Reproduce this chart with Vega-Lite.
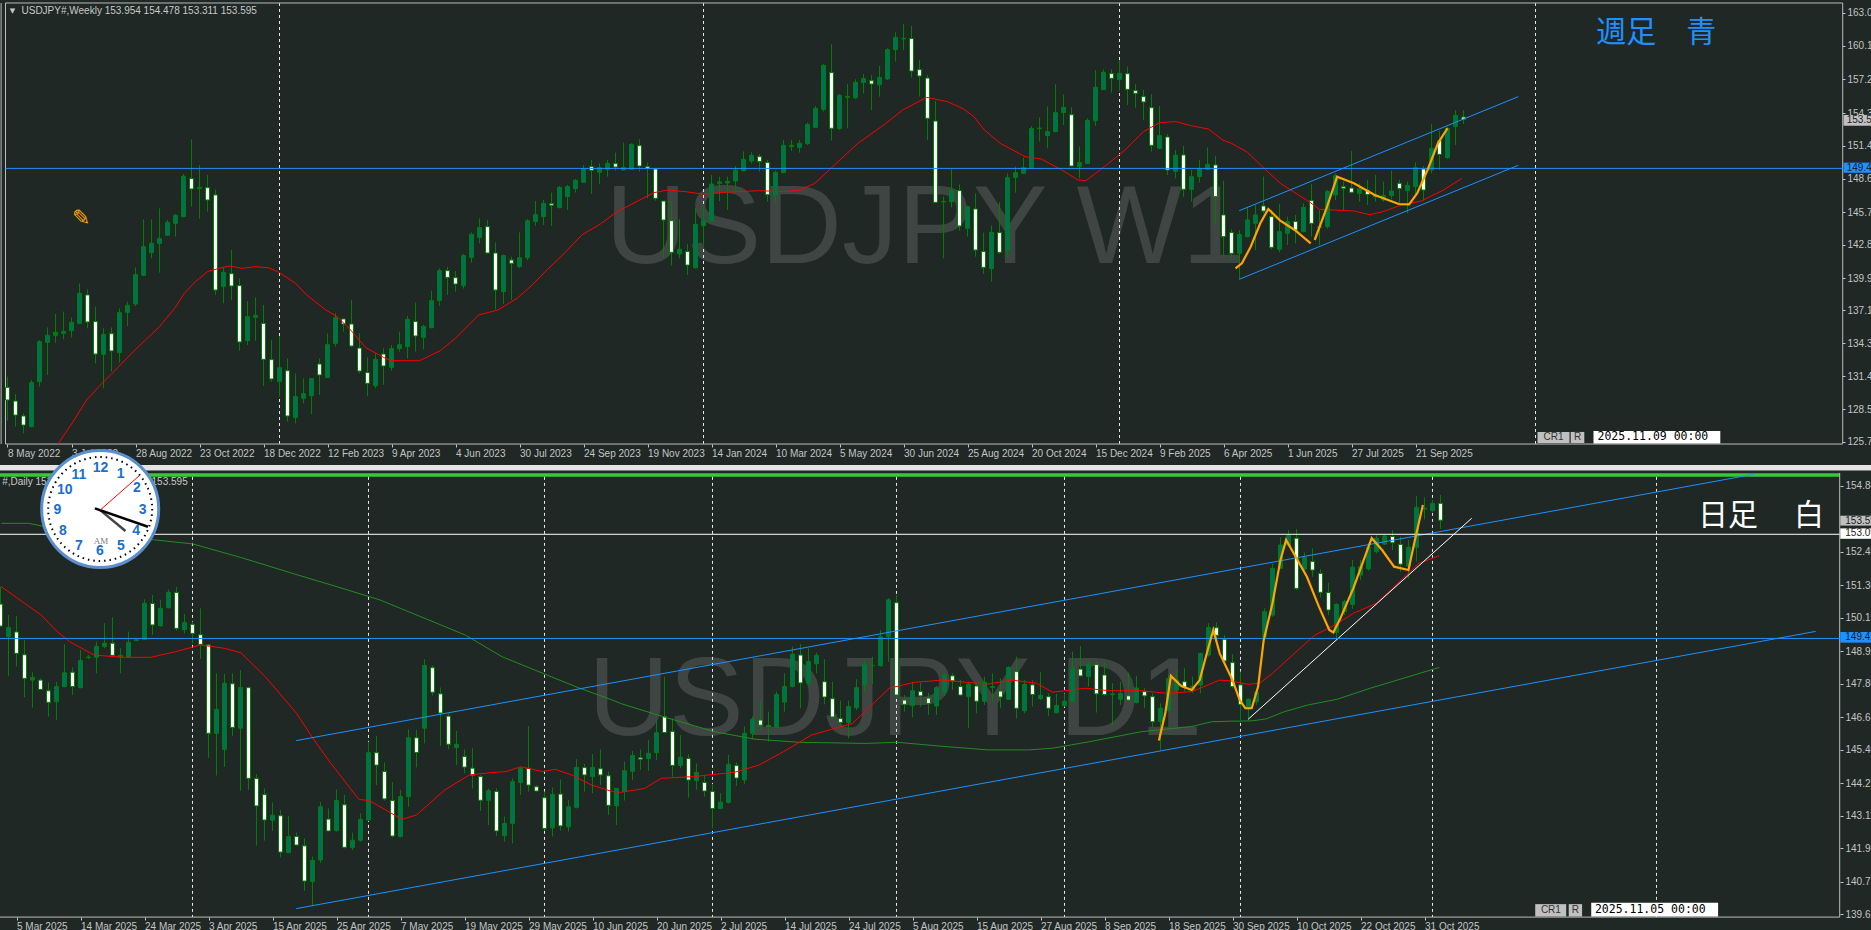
{"$schema":"https://vega.github.io/schema/vega-lite/v6.json","background":"#1f2824","padding":0,"autosize":{"type":"none"},"width":1871,"height":930,"resolve":{"scale":{"x":"independent","y":"independent"},"axis":{"x":"independent","y":"independent"}},"config":{"view":{"stroke":null},"axis":{"title":null,"grid":false,"labelFont":"Liberation Sans","labelFontSize":10,"labelColor":"#c4c4c4","tickColor":"#c4c4c4","domain":false,"tickSize":3,"labelOverlap":false,"labelBound":false,"labelFlush":false}},
"datasets":{
"wk":[{"n":0,"o":130.45,"h":131.38,"l":127.55,"c":129.35},{"n":1,"o":129.26,"h":129.87,"l":127.03,"c":128.04},{"n":2,"o":127.96,"h":128.19,"l":126.45,"c":127.17},{"n":3,"o":127.03,"h":131.09,"l":126.97,"c":130.86},{"n":4,"o":130.95,"h":134.57,"l":130.51,"c":134.43},{"n":5,"o":134.37,"h":135.67,"l":131.53,"c":134.98},{"n":6,"o":134.98,"h":136.83,"l":134.34,"c":135.24},{"n":7,"o":135.15,"h":137.04,"l":134.63,"c":135.32},{"n":8,"o":135.38,"h":136.54,"l":134.8,"c":136.11},{"n":9,"o":136.02,"h":139.5,"l":135.96,"c":138.63},
{"n":10,"o":138.49,"h":138.98,"l":135.59,"c":136.14},{"n":11,"o":136.17,"h":137.47,"l":132.54,"c":133.35},{"n":12,"o":133.32,"h":135.59,"l":130.37,"c":135.06},{"n":13,"o":135.12,"h":135.67,"l":131.82,"c":133.62},{"n":14,"o":133.47,"h":137.32,"l":132.6,"c":136.95},{"n":15,"o":136.98,"h":137.9,"l":135.79,"c":137.59},{"n":16,"o":137.7,"h":140.89,"l":137.53,"c":140.25},{"n":17,"o":140.2,"h":145.07,"l":140.14,"c":142.69},{"n":18,"o":142.17,"h":145.07,"l":141.68,"c":142.98},{"n":19,"o":142.98,"h":146.03,"l":140.43,"c":143.39},
{"n":20,"o":143.68,"h":145.01,"l":143.62,"c":144.81},{"n":21,"o":144.72,"h":145.53,"l":143.56,"c":145.42},{"n":22,"o":145.3,"h":149.01,"l":145.24,"c":148.81},{"n":23,"o":148.61,"h":152.03,"l":146.17,"c":147.71},{"n":24,"o":147.74,"h":149.8,"l":145.13,"c":147.85},{"n":25,"o":147.82,"h":148.93,"l":145.74,"c":146.75},{"n":26,"o":147.19,"h":147.68,"l":138.49,"c":138.92},{"n":27,"o":139.21,"h":140.86,"l":137.76,"c":140.46},{"n":28,"o":140.34,"h":142.4,"l":138.05,"c":139.27},{"n":29,"o":139.3,"h":139.94,"l":133.64,"c":134.4},
{"n":30,"o":134.51,"h":137.96,"l":134.13,"c":136.6},{"n":31,"o":136.54,"h":138.28,"l":134.51,"c":136.72},{"n":32,"o":136.02,"h":137.62,"l":130.57,"c":132.89},{"n":33,"o":132.86,"h":134.57,"l":130.95,"c":131.18},{"n":34,"o":130.97,"h":134.92,"l":129.64,"c":132.16},{"n":35,"o":131.9,"h":132.97,"l":127.47,"c":127.96},{"n":36,"o":127.84,"h":131.67,"l":127.32,"c":129.64},{"n":37,"o":129.5,"h":131.23,"l":129.06,"c":129.9},{"n":38,"o":129.73,"h":131.23,"l":128.13,"c":131.21},{"n":39,"o":132.48,"h":132.97,"l":129.79,"c":131.53},
{"n":40,"o":131.32,"h":135.15,"l":131.26,"c":134.16},{"n":41,"o":134.28,"h":136.89,"l":133.99,"c":136.51},{"n":42,"o":136.4,"h":136.46,"l":135.3,"c":135.96},{"n":43,"o":135.96,"h":138.05,"l":133.93,"c":134.05},{"n":44,"o":133.87,"h":135.15,"l":131.67,"c":131.87},{"n":45,"o":131.73,"h":133.06,"l":129.7,"c":130.8},{"n":46,"o":130.6,"h":133.41,"l":130.37,"c":132.89},{"n":47,"o":133.35,"h":133.85,"l":130.66,"c":132.31},{"n":48,"o":132.19,"h":134.13,"l":131.9,"c":133.82},{"n":49,"o":133.82,"h":135.3,"l":133.56,"c":134.16},
{"n":50,"o":133.99,"h":136.66,"l":132.97,"c":136.37},{"n":51,"o":136.17,"h":137.82,"l":133.56,"c":134.92},{"n":52,"o":134.8,"h":135.88,"l":133.76,"c":135.76},{"n":53,"o":135.64,"h":138.86,"l":135.59,"c":137.99},{"n":54,"o":138.02,"h":140.8,"l":137.53,"c":140.6},{"n":55,"o":140.6,"h":140.95,"l":138.49,"c":140.02},{"n":56,"o":139.99,"h":140.57,"l":138.78,"c":139.44},{"n":57,"o":139.3,"h":142.05,"l":139.04,"c":141.91},{"n":58,"o":141.76,"h":143.94,"l":141.3,"c":143.76},{"n":59,"o":143.5,"h":145.16,"l":142.98,"c":144.34},
{"n":60,"o":144.43,"h":145.01,"l":142.11,"c":142.14},{"n":61,"o":142.14,"h":143.07,"l":137.24,"c":138.92},{"n":62,"o":138.78,"h":142.02,"l":137.7,"c":141.91},{"n":63,"o":141.53,"h":141.82,"l":138.05,"c":141.24},{"n":64,"o":140.95,"h":143.94,"l":140.8,"c":141.73},{"n":65,"o":141.73,"h":145.07,"l":141.53,"c":144.95},{"n":66,"o":144.89,"h":146.66,"l":144.49,"c":145.47},{"n":67,"o":145.3,"h":146.75,"l":144.58,"c":146.46},{"n":68,"o":146.43,"h":147.39,"l":144.49,"c":146.29},{"n":69,"o":146.08,"h":147.97,"l":146.03,"c":147.85},
{"n":70,"o":147.04,"h":148.06,"l":145.88,"c":147.91},{"n":71,"o":147.74,"h":148.58,"l":147.39,"c":148.46},{"n":72,"o":148.29,"h":149.8,"l":148.26,"c":149.45},{"n":73,"o":149.65,"h":150.23,"l":147.27,"c":149.33},{"n":74,"o":149.16,"h":149.94,"l":148.14,"c":149.56},{"n":75,"o":149.42,"h":150.23,"l":148.78,"c":149.94},{"n":76,"o":149.91,"h":150.87,"l":149.3,"c":149.62},{"n":77,"o":149.36,"h":151.74,"l":149.36,"c":149.59},{"n":78,"o":149.42,"h":151.68,"l":149.36,"c":151.59},{"n":79,"o":151.48,"h":152.03,"l":149.22,"c":149.71},
{"n":80,"o":149.65,"h":150,"l":146.9,"c":149.5},{"n":81,"o":149.45,"h":149.5,"l":146.69,"c":146.9},{"n":82,"o":146.66,"h":146.66,"l":141.68,"c":145.01},{"n":83,"o":144.95,"h":146.66,"l":141.04,"c":142.2},{"n":84,"o":142.05,"h":145.07,"l":141.68,"c":142.46},{"n":85,"o":142.26,"h":142.92,"l":140.23,"c":141.09},{"n":86,"o":140.86,"h":146.03,"l":140.8,"c":144.63},{"n":87,"o":144.52,"h":146.17,"l":142.69,"c":144.98},{"n":88,"o":144.92,"h":148.93,"l":144.87,"c":148.14},{"n":89,"o":148.2,"h":148.78,"l":146.66,"c":148.32},
{"n":90,"o":148.23,"h":148.78,"l":145.88,"c":148.37},{"n":91,"o":148.4,"h":149.71,"l":147.62,"c":149.33},{"n":92,"o":149.3,"h":150.98,"l":149.22,"c":150.29},{"n":93,"o":150.14,"h":150.9,"l":149.94,"c":150.64},{"n":94,"o":150.52,"h":150.75,"l":149.22,"c":150.11},{"n":95,"o":150,"h":150.23,"l":146.6,"c":147.21},{"n":96,"o":147.19,"h":149.3,"l":146.52,"c":149.16},{"n":97,"o":149.13,"h":151.97,"l":149.07,"c":151.51},{"n":98,"o":151.39,"h":151.97,"l":151.01,"c":151.51},{"n":99,"o":151.33,"h":151.97,"l":150.87,"c":151.68},
{"n":100,"o":151.65,"h":153.48,"l":151.54,"c":153.33},{"n":101,"o":153.07,"h":154.93,"l":153.01,"c":154.72},{"n":102,"o":154.64,"h":158.58,"l":154.44,"c":158.47},{"n":103,"o":157.83,"h":160.29,"l":151.91,"c":152.99},{"n":104,"o":152.96,"h":155.97,"l":152.84,"c":155.86},{"n":105,"o":155.68,"h":156.84,"l":152.99,"c":155.77},{"n":106,"o":155.65,"h":157.25,"l":155.54,"c":156.99},{"n":107,"o":156.96,"h":157.71,"l":156.03,"c":157.31},{"n":108,"o":157.13,"h":157.63,"l":154.58,"c":156.84},{"n":109,"o":156.78,"h":158.41,"l":155.74,"c":157.42},
{"n":110,"o":157.28,"h":159.95,"l":157.19,"c":159.83},{"n":111,"o":159.83,"h":161.34,"l":158.79,"c":160.9},{"n":112,"o":160.76,"h":162.06,"l":159.8,"c":160.82},{"n":113,"o":160.79,"h":161.89,"l":157.42,"c":157.97},{"n":114,"o":158.09,"h":158.93,"l":155.74,"c":157.54},{"n":115,"o":157.36,"h":157.63,"l":151.97,"c":153.86},{"n":116,"o":153.62,"h":155.36,"l":146.46,"c":146.55},{"n":117,"o":146.58,"h":147.04,"l":141.68,"c":146.63},{"n":118,"o":146.6,"h":149.42,"l":146.11,"c":147.62},{"n":119,"o":147.56,"h":148.11,"l":144.08,"c":144.49},
{"n":120,"o":144.29,"h":146.26,"l":143.56,"c":146.17},{"n":121,"o":145.97,"h":147.33,"l":141.82,"c":142.4},{"n":122,"o":142.26,"h":143.91,"l":140.31,"c":140.89},{"n":123,"o":140.78,"h":144.52,"l":139.65,"c":143.94},{"n":124,"o":143.91,"h":146.55,"l":142.05,"c":142.2},{"n":125,"o":142.34,"h":149.07,"l":141.76,"c":148.69},{"n":126,"o":148.72,"h":149.65,"l":147.39,"c":149.13},{"n":127,"o":149.07,"h":150.43,"l":149.07,"c":149.56},{"n":128,"o":149.56,"h":153.19,"l":149.5,"c":152.96},{"n":129,"o":152.96,"h":153.94,"l":151.83,"c":153.01},
{"n":130,"o":152.35,"h":154.87,"l":151.25,"c":152.7},{"n":131,"o":152.7,"h":156.81,"l":152.64,"c":154.35},{"n":132,"o":154.35,"h":155.94,"l":153.28,"c":154.81},{"n":133,"o":154.17,"h":154.81,"l":149.65,"c":149.71},{"n":134,"o":149.65,"h":151.39,"l":148.63,"c":150},{"n":135,"o":149.94,"h":153.86,"l":149.88,"c":153.68},{"n":136,"o":153.65,"h":158.06,"l":153.19,"c":156.55},{"n":137,"o":156.35,"h":158.12,"l":156.32,"c":157.86},{"n":138,"o":157.74,"h":158.12,"l":156.09,"c":157.34},{"n":139,"o":157.22,"h":158.93,"l":156.26,"c":157.77},
{"n":140,"o":157.74,"h":158.35,"l":155.02,"c":156.38},{"n":141,"o":156.26,"h":156.84,"l":154.78,"c":156.03},{"n":142,"o":155.74,"h":156.32,"l":153.71,"c":155.28},{"n":143,"o":154.78,"h":155.97,"l":150.96,"c":151.51},{"n":144,"o":151.25,"h":154.93,"l":151.19,"c":152.35},{"n":145,"o":152.23,"h":152.49,"l":148.93,"c":149.36},{"n":146,"o":149.25,"h":151.1,"l":148.63,"c":150.64},{"n":147,"o":150.67,"h":151.45,"l":147.04,"c":147.68},{"n":148,"o":147.68,"h":149.36,"l":146.6,"c":148.78},{"n":149,"o":148.78,"h":150.23,"l":148.26,"c":149.45},
{"n":150,"o":149.42,"h":151.33,"l":149.36,"c":149.85},{"n":151,"o":149.8,"h":150.58,"l":144.58,"c":147.04},{"n":152,"o":145.45,"h":148.43,"l":141.82,"c":143.56},{"n":153,"o":143.91,"h":144.2,"l":141.68,"c":142.11},{"n":154,"o":142.11,"h":144.14,"l":139.85,"c":143.76},{"n":155,"o":143.56,"h":146.11,"l":143.5,"c":145.01},{"n":156,"o":144.72,"h":146.32,"l":142.4,"c":145.45},{"n":157,"o":146.23,"h":148.78,"l":145.59,"c":145.79},{"n":158,"o":145.3,"h":145.88,"l":142.46,"c":142.63},{"n":159,"o":142.46,"h":146.4,"l":142.2,"c":144},
{"n":160,"o":143.85,"h":145.3,"l":142.84,"c":144.87},{"n":161,"o":144.87,"h":145.45,"l":142.98,"c":144.14},{"n":162,"o":144,"h":146.46,"l":143.94,"c":146.11},{"n":163,"o":146.69,"h":148.14,"l":143.56,"c":144.72},{"n":164,"o":144.37,"h":145.88,"l":142.84,"c":144.43},{"n":165,"o":144.43,"h":147.62,"l":144.26,"c":147.5},{"n":166,"o":147.19,"h":149.07,"l":146.75,"c":148.87},{"n":167,"o":147.91,"h":148.35,"l":145.88,"c":147.77},{"n":168,"o":147.79,"h":151.01,"l":147.33,"c":147.42},{"n":169,"o":147.33,"h":148.2,"l":146.6,"c":147.71},
{"n":170,"o":147.62,"h":148.49,"l":146.32,"c":147.24},{"n":171,"o":147.19,"h":148.93,"l":146.6,"c":147.04},{"n":172,"o":146.75,"h":148.35,"l":146.6,"c":147.13},{"n":173,"o":147.13,"h":149.3,"l":146.81,"c":147.53},{"n":174,"o":148.2,"h":148.49,"l":146.46,"c":147.74},{"n":175,"o":147.56,"h":148.35,"l":145.59,"c":148.03},{"n":176,"o":147.91,"h":150.03,"l":147.04,"c":149.56},{"n":177,"o":149.45,"h":149.71,"l":146.69,"c":147.62},{"n":178,"o":149.36,"h":153.36,"l":149.07,"c":151.25},{"n":179,"o":151.91,"h":152.78,"l":149.36,"c":150.72},
{"n":180,"o":150.43,"h":153.13,"l":150.35,"c":152.99},{"n":181,"o":153.13,"h":154.58,"l":151.54,"c":154.12},{"n":182,"o":153.97,"h":154.58,"l":153.36,"c":153.77}],
"dy":[{"n":-2,"o":150.63,"h":151.25,"l":149.83,"c":149.85},{"n":-1,"o":149.48,"h":150.24,"l":148.08,"c":149.8},{"n":0,"o":149.64,"h":150.21,"l":148.41,"c":148.88},{"n":1,"o":148.83,"h":149.35,"l":147.32,"c":147.99},{"n":2,"o":147.93,"h":148.21,"l":146.95,"c":148.03},{"n":3,"o":147.93,"h":147.99,"l":147.58,"c":147.6},{"n":4,"o":147.55,"h":147.84,"l":146.63,"c":147.14},{"n":5,"o":147.16,"h":147.87,"l":146.51,"c":147.7},{"n":6,"o":147.7,"h":149.21,"l":147.67,"c":148.19},{"n":7,"o":148.21,"h":148.38,"l":147.4,"c":147.7},
{"n":8,"o":147.66,"h":149,"l":147.64,"c":148.62},{"n":9,"o":148.73,"h":148.82,"l":148.68,"c":148.75},{"n":10,"o":148.74,"h":149.3,"l":148.17,"c":149.13},{"n":11,"o":149.12,"h":149.95,"l":149.06,"c":149.24},{"n":12,"o":149.24,"h":150.16,"l":148.76,"c":148.81},{"n":13,"o":148.76,"h":149.06,"l":148.17,"c":148.81},{"n":14,"o":148.75,"h":149.65,"l":148.74,"c":149.27},{"n":15,"o":149.33,"h":149.39,"l":149.32,"c":149.37},{"n":16,"o":149.38,"h":150.8,"l":149.35,"c":150.66},{"n":17,"o":150.65,"h":150.95,"l":149.53,"c":149.89},
{"n":18,"o":149.86,"h":150.78,"l":149.83,"c":150.48},{"n":19,"o":150.5,"h":151.15,"l":150.48,"c":151.05},{"n":20,"o":151.04,"h":151.24,"l":149.69,"c":149.77},{"n":21,"o":149.72,"h":150.28,"l":149.59,"c":149.98},{"n":22,"o":149.91,"h":150.01,"l":149.24,"c":149.59},{"n":23,"o":149.54,"h":150.48,"l":148.68,"c":149.2},{"n":24,"o":149.18,"h":149.21,"l":145.17,"c":146.04},{"n":25,"o":146.04,"h":148.17,"l":144.54,"c":146.89},{"n":26,"o":145.47,"h":148.15,"l":144.85,"c":147.82},{"n":27,"o":147.8,"h":148.17,"l":145.94,"c":146.25},
{"n":28,"o":146.22,"h":148.29,"l":144,"c":147.67},{"n":29,"o":147.66,"h":147.7,"l":144.03,"c":144.44},{"n":30,"o":144.43,"h":144.59,"l":142.05,"c":143.46},{"n":31,"o":143.86,"h":144.08,"l":142.23,"c":142.96},{"n":32,"o":142.95,"h":143.58,"l":142.57,"c":143.13},{"n":33,"o":143.11,"h":143.31,"l":141.63,"c":141.82},{"n":34,"o":141.8,"h":143.1,"l":141.78,"c":142.37},{"n":35,"o":142.37,"h":142.51,"l":142.05,"c":142.07},{"n":36,"o":142.04,"h":142.31,"l":140.44,"c":140.79},{"n":37,"o":140.77,"h":141.66,"l":139.9,"c":141.52},
{"n":38,"o":141.54,"h":143.6,"l":141.44,"c":143.43},{"n":39,"o":142.99,"h":143.37,"l":142.55,"c":142.57},{"n":40,"o":142.58,"h":144.05,"l":142.55,"c":143.65},{"n":41,"o":143.5,"h":143.85,"l":141.95,"c":141.99},{"n":42,"o":141.98,"h":142.51,"l":141.89,"c":142.24},{"n":43,"o":142.24,"h":143.2,"l":142.19,"c":142.98},{"n":44,"o":142.96,"h":145.74,"l":142.92,"c":145.35},{"n":45,"o":145.35,"h":145.94,"l":144.2,"c":144.91},{"n":46,"o":144.68,"h":145,"l":143.65,"c":143.71},{"n":47,"o":143.65,"h":144.31,"l":142.34,"c":142.39},
{"n":48,"o":142.37,"h":144.03,"l":142.34,"c":143.79},{"n":49,"o":143.79,"h":146.18,"l":143.43,"c":145.88},{"n":50,"o":145.88,"h":146.16,"l":144.83,"c":145.36},{"n":51,"o":146.22,"h":148.67,"l":145.68,"c":148.45},{"n":52,"o":148.37,"h":148.45,"l":147.38,"c":147.5},{"n":53,"o":147.44,"h":147.67,"l":145.59,"c":146.76},{"n":54,"o":146.65,"h":146.75,"l":145.47,"c":145.65},{"n":55,"o":145.54,"h":146.12,"l":144.91,"c":145.65},{"n":56,"o":145.21,"h":145.47,"l":144.62,"c":144.84},{"n":57,"o":144.8,"h":145.51,"l":144.08,"c":144.55},
{"n":58,"o":144.5,"h":144.56,"l":143.28,"c":143.66},{"n":59,"o":143.66,"h":144.08,"l":142.78,"c":144},{"n":60,"o":143.97,"h":144.08,"l":142.39,"c":142.57},{"n":61,"o":142.4,"h":143.08,"l":142.19,"c":142.84},{"n":62,"o":142.84,"h":144.44,"l":142.13,"c":144.32},{"n":63,"o":144.29,"h":144.85,"l":143.85,"c":144.8},{"n":64,"o":144.8,"h":146.3,"l":143.97,"c":144.2},{"n":65,"o":144.14,"h":144.2,"l":143.97,"c":143.99},{"n":66,"o":143.75,"h":143.97,"l":142.6,"c":142.66},{"n":67,"o":142.68,"h":144.12,"l":142.37,"c":143.87},
{"n":68,"o":143.88,"h":144.4,"l":142.58,"c":142.75},{"n":69,"o":142.72,"h":143.67,"l":142.55,"c":143.43},{"n":70,"o":143.41,"h":145.12,"l":143.37,"c":144.83},{"n":71,"o":144.82,"h":144.95,"l":143.97,"c":144.56},{"n":72,"o":144.5,"h":145.3,"l":143.91,"c":144.83},{"n":73,"o":144.78,"h":145.47,"l":144.2,"c":144.56},{"n":74,"o":144.53,"h":144.68,"l":143.14,"c":143.48},{"n":75,"o":143.46,"h":144.08,"l":142.78,"c":144.08},{"n":76,"o":143.97,"h":145.03,"l":143.65,"c":144.71},{"n":77,"o":144.69,"h":145.41,"l":144.38,"c":145.25},
{"n":78,"o":145.17,"h":145.47,"l":144.74,"c":145.12},{"n":79,"o":145.14,"h":145.8,"l":144.7,"c":145.33},{"n":80,"o":145.35,"h":146.54,"l":145.09,"c":146.06},{"n":81,"o":146.63,"h":148.05,"l":146.04,"c":146.07},{"n":82,"o":146.1,"h":146.57,"l":144.5,"c":144.9},{"n":83,"o":144.9,"h":145.98,"l":144.8,"c":145.19},{"n":84,"o":145.14,"h":145.3,"l":143.75,"c":144.38},{"n":85,"o":144.36,"h":144.97,"l":144.03,"c":144.65},{"n":86,"o":144.29,"h":144.56,"l":143.79,"c":143.99},{"n":87,"o":143.97,"h":144.24,"l":142.66,"c":143.37},
{"n":88,"o":143.37,"h":143.91,"l":143.34,"c":143.59},{"n":89,"o":143.58,"h":145.27,"l":143.55,"c":144.94},{"n":90,"o":144.89,"h":145,"l":144.17,"c":144.45},{"n":91,"o":144.38,"h":146.28,"l":144.24,"c":146.04},{"n":92,"o":146.04,"h":146.63,"l":145.83,"c":146.54},{"n":93,"o":146.51,"h":147.19,"l":146.16,"c":146.33},{"n":94,"o":146.31,"h":146.81,"l":145.74,"c":146.28},{"n":95,"o":146.25,"h":147.52,"l":146.22,"c":147.42},{"n":96,"o":147.15,"h":148.17,"l":146.81,"c":147.7},{"n":97,"o":147.7,"h":149.12,"l":147.67,"c":148.85},
{"n":98,"o":148.82,"h":149.21,"l":146.93,"c":147.83},{"n":99,"o":147.82,"h":149.06,"l":147.7,"c":148.59},{"n":100,"o":148.51,"h":148.9,"l":148.17,"c":148.81},{"n":101,"o":147.87,"h":148.67,"l":147.07,"c":147.33},{"n":102,"o":147.27,"h":147.87,"l":146.57,"c":146.62},{"n":103,"o":146.56,"h":147.2,"l":146.28,"c":146.43},{"n":104,"o":146.42,"h":147.2,"l":145.86,"c":146.99},{"n":105,"o":146.95,"h":147.96,"l":146.87,"c":147.66},{"n":106,"o":147.76,"h":148.64,"l":147.52,"c":148.5},{"n":107,"o":148.44,"h":148.76,"l":147.79,"c":148.45},
{"n":108,"o":148.44,"h":149.71,"l":148.41,"c":149.47},{"n":109,"o":149.47,"h":150.84,"l":148.58,"c":150.78},{"n":110,"o":150.68,"h":150.95,"l":147.28,"c":147.4},{"n":111,"o":147.22,"h":147.4,"l":146.81,"c":147.07},{"n":112,"o":147.02,"h":147.87,"l":146.61,"c":147.55},{"n":113,"o":147.52,"h":147.84,"l":146.99,"c":147.37},{"n":114,"o":147.29,"h":147.48,"l":146.69,"c":147.1},{"n":115,"o":147.01,"h":147.72,"l":146.69,"c":147.66},{"n":116,"o":147.5,"h":148.17,"l":147.37,"c":148.11},{"n":117,"o":148.08,"h":148.17,"l":147.58,"c":147.9},
{"n":118,"o":147.7,"h":147.93,"l":147.37,"c":147.4},{"n":119,"o":147.34,"h":147.87,"l":146.22,"c":147.79},{"n":120,"o":147.72,"h":147.87,"l":146.75,"c":147.18},{"n":121,"o":147.18,"h":148.05,"l":147.05,"c":147.85},{"n":122,"o":147.67,"h":148.17,"l":147.16,"c":147.7},{"n":123,"o":147.54,"h":147.99,"l":146.93,"c":147.33},{"n":124,"o":147.25,"h":148.43,"l":147.22,"c":148.38},{"n":125,"o":148.23,"h":148.76,"l":146.57,"c":146.93},{"n":126,"o":146.84,"h":147.93,"l":146.75,"c":147.78},{"n":127,"o":147.76,"h":147.93,"l":146.99,"c":147.42},
{"n":128,"o":147.27,"h":148.21,"l":147.22,"c":147.39},{"n":129,"o":147.34,"h":147.46,"l":146.65,"c":146.93},{"n":130,"o":146.77,"h":147.44,"l":146.75,"c":147.03},{"n":131,"o":147.02,"h":147.46,"l":146.99,"c":147.18},{"n":132,"o":147.18,"h":148.94,"l":147.16,"c":148.35},{"n":133,"o":148.32,"h":149.14,"l":148.05,"c":148.08},{"n":134,"o":148.05,"h":148.59,"l":147.7,"c":148.49},{"n":135,"o":148.48,"h":148.59,"l":146.78,"c":147.44},{"n":136,"o":148.11,"h":148.59,"l":147.37,"c":147.42},{"n":137,"o":147.41,"h":147.82,"l":146.33,"c":147.44},
{"n":138,"o":147.25,"h":147.87,"l":147.05,"c":147.46},{"n":139,"o":147.37,"h":148.19,"l":147.16,"c":147.22},{"n":140,"o":147.13,"h":148.08,"l":147.1,"c":147.65},{"n":141,"o":147.52,"h":147.64,"l":146.93,"c":147.37},{"n":142,"o":147.34,"h":147.46,"l":146.25,"c":146.45},{"n":143,"o":146.45,"h":147.1,"l":145.45,"c":146.93},{"n":144,"o":146.87,"h":148.11,"l":146.81,"c":147.99},{"n":145,"o":147.58,"h":148.29,"l":147.46,"c":147.93},{"n":146,"o":147.87,"h":148.35,"l":147.52,"c":147.67},{"n":147,"o":147.58,"h":148.05,"l":147.46,"c":147.7},
{"n":148,"o":147.76,"h":148.9,"l":147.46,"c":148.88},{"n":149,"o":148.82,"h":149.95,"l":148.76,"c":149.8},{"n":150,"o":149.79,"h":149.98,"l":149.3,"c":149.52},{"n":151,"o":149.38,"h":149.53,"l":148.53,"c":148.61},{"n":152,"o":148.55,"h":148.86,"l":147.64,"c":147.7},{"n":153,"o":147.76,"h":148.23,"l":146.51,"c":147.07},{"n":154,"o":146.93,"h":147.28,"l":146.51,"c":147.25},{"n":155,"o":147.16,"h":147.58,"l":147.05,"c":147.5},{"n":156,"o":149.47,"h":150.48,"l":149.41,"c":150.36},{"n":157,"o":150.24,"h":152.05,"l":150.18,"c":151.9},
{"n":158,"o":151.9,"h":153,"l":151.87,"c":152.73},{"n":159,"o":152.73,"h":153.26,"l":152.67,"c":153.08},{"n":160,"o":152.97,"h":153.3,"l":151.13,"c":151.19},{"n":161,"o":151.87,"h":152.46,"l":151.82,"c":152.29},{"n":162,"o":152.14,"h":152.61,"l":151.6,"c":151.84},{"n":163,"o":151.72,"h":151.87,"l":150.87,"c":151.05},{"n":164,"o":151.04,"h":151.39,"l":150.24,"c":150.42},{"n":165,"o":149.62,"h":150.66,"l":149.41,"c":150.62},{"n":166,"o":150.36,"h":150.78,"l":150.24,"c":150.72},{"n":167,"o":150.62,"h":152.2,"l":150.46,"c":151.94},
{"n":168,"o":151.66,"h":152.2,"l":151.49,"c":151.96},{"n":169,"o":151.88,"h":152.81,"l":151.82,"c":152.65},{"n":170,"o":152.49,"h":153.08,"l":152.43,"c":152.97},{"n":171,"o":152.76,"h":153.08,"l":152.73,"c":153.05},{"n":172,"o":153.03,"h":153.26,"l":152.55,"c":152.81},{"n":173,"o":152.75,"h":153.03,"l":151.78,"c":152.05},{"n":174,"o":151.98,"h":152.91,"l":151.55,"c":152.65},{"n":175,"o":152.65,"h":154.47,"l":152.14,"c":154.07},{"n":176,"o":154.03,"h":154.42,"l":153.64,"c":154.01},{"n":177,"o":153.95,"h":154.33,"l":153.91,"c":154.21},{"n":178,"o":154.21,"h":154.51,"l":153.3,"c":153.61}],
"wkMa":[{"n":6.3,"p":125.52},{"n":8.2,"p":127.47},{"n":9.89,"p":129.35},{"n":11.8,"p":130.8},{"n":13,"p":131.61},{"n":14.9,"p":132.97},{"n":16.8,"p":134.28},{"n":19,"p":135.73},{"n":20.9,"p":137.33},{"n":22.1,"p":138.63},{"n":23.5,"p":139.65},{"n":25,"p":140.52},{"n":26.4,"p":140.8},{"n":27.8,"p":141.01},{"n":29.3,"p":140.8},{"n":30.9,"p":140.95},{"n":32.6,"p":140.86},{"n":34,"p":140.43},{"n":36,"p":139.5},{"n":37.4,"p":138.49},{"n":39.8,"p":137.18},{"n":41.2,"p":136.6},{"n":42.7,"p":135.59},{"n":44.8,"p":133.9},{"n":47,"p":133.06},{"n":47.9,"p":132.77},{"n":51.5,"p":132.77},{"n":54.1,"p":133.64},{"n":56,"p":134.72},{"n":58.9,"p":136.75},{"n":61.3,"p":137.18},{"n":63.7,"p":138.2},{"n":65.6,"p":139.36},{"n":67.5,"p":140.72},{"n":69.4,"p":141.97},{"n":71.8,"p":143.71},{"n":74.1,"p":144.66},{"n":76.2,"p":145.73},{"n":80.8,"p":147.39},{"n":82.5,"p":147.62},{"n":84.8,"p":147.47},{"n":86.9,"p":147.27},{"n":90.4,"p":147.45},{"n":94,"p":147.56},{"n":97.1,"p":147.47},{"n":99.1,"p":147.62},{"n":100.9,"p":148.2},{"n":102.7,"p":149.36},{"n":106.3,"p":151.68},{"n":109.8,"p":153.42},{"n":111.9,"p":154.58},{"n":114.9,"p":155.68},{"n":117.5,"p":155.3},{"n":119.5,"p":154.67},{"n":120.8,"p":154},{"n":122.1,"p":152.84},{"n":124.1,"p":151.68},{"n":127.2,"p":150.52},{"n":129.2,"p":150.32},{"n":131.8,"p":149.36},{"n":133.8,"p":148.49},{"n":134.8,"p":148.43},{"n":137.1,"p":149.65},{"n":139.7,"p":151.1},{"n":142,"p":152.7},{"n":144,"p":153.48},{"n":146,"p":153.57},{"n":148.1,"p":153.19},{"n":150.1,"p":152.93},{"n":151.9,"p":151.97},{"n":153,"p":151.68},{"n":155,"p":150.9},{"n":157.3,"p":149.36},{"n":159.1,"p":148.2},{"n":162.7,"p":146.6},{"n":164,"p":145.94},{"n":168.3,"p":145.79},{"n":170.3,"p":145.47},{"n":171.9,"p":145.73},{"n":173.9,"p":146.23},{"n":176.7,"p":146.66},{"n":179.5,"p":147.62},{"n":181.8,"p":148.63}],
"wkOrange":[{"s":1,"n":153.5,"p":140.8},{"s":1,"n":154.3,"p":141.24},{"s":1,"n":155.4,"p":142.69},{"s":1,"n":156.6,"p":144.72},{"s":1,"n":157.6,"p":145.97},{"s":1,"n":159.1,"p":144.95},{"s":1,"n":160.9,"p":144.14},{"s":1,"n":162.9,"p":142.98},{"s":2,"n":163.4,"p":143.27},{"s":2,"n":164.8,"p":145.88},{"s":2,"n":166.2,"p":148.78},{"s":2,"n":168.3,"p":148.2},{"s":2,"n":170.9,"p":147.19},{"s":2,"n":173.9,"p":146.4},{"s":2,"n":175.2,"p":146.37},{"s":2,"n":176.2,"p":147.33},{"s":2,"n":177.5,"p":149.36},{"s":2,"n":178.8,"p":151.68},{"s":2,"n":180,"p":152.99}],
"wkChan":[{"s":"u","n":153.97,"p":145.82},{"s":"u","n":188.85,"p":155.74},{"s":"l","n":153.97,"p":139.85},{"s":"l","n":188.85,"p":149.77}],
"dyRed":[{"n":-1.9,"p":151.25},{"n":1,"p":150.66},{"n":3.1,"p":150.24},{"n":5.1,"p":149.65},{"n":6.6,"p":149.3},{"n":9.7,"p":148.82},{"n":13.3,"p":148.74},{"n":16.8,"p":148.74},{"n":19.9,"p":148.94},{"n":23,"p":149.18},{"n":26,"p":149.06},{"n":28.05,"p":148.9},{"n":31.1,"p":148.05},{"n":35,"p":146.75},{"n":37.2,"p":145.8},{"n":39.3,"p":144.97},{"n":42.8,"p":143.69},{"n":44.1,"p":143.65},{"n":48.2,"p":142.98},{"n":50,"p":143.14},{"n":53.55,"p":144.03},{"n":56.6,"p":144.56},{"n":59.2,"p":144.64},{"n":61.2,"p":144.68},{"n":63,"p":144.85},{"n":65.8,"p":144.68},{"n":67.3,"p":144.76},{"n":69.4,"p":144.56},{"n":71.9,"p":144.2},{"n":74.5,"p":143.97},{"n":75.5,"p":143.94},{"n":78.5,"p":144.08},{"n":80.6,"p":144.44},{"n":84.6,"p":144.5},{"n":87.2,"p":144.58},{"n":89.7,"p":144.65},{"n":92.8,"p":144.91},{"n":95.9,"p":145.39},{"n":99.4,"p":145.98},{"n":104.5,"p":146.39},{"n":107.1,"p":147.1},{"n":109.1,"p":147.64},{"n":112.2,"p":147.85},{"n":115.8,"p":147.93},{"n":118.8,"p":147.85},{"n":121.4,"p":147.79},{"n":124.4,"p":147.93},{"n":127.5,"p":147.82},{"n":129.5,"p":147.5},{"n":133.6,"p":147.64},{"n":136.7,"p":147.55},{"n":140.7,"p":147.55},{"n":143.8,"p":147.46},{"n":146.9,"p":147.52},{"n":150.4,"p":147.93},{"n":151.8,"p":147.9},{"n":153.9,"p":147.78},{"n":155.4,"p":147.82},{"n":157,"p":148.17},{"n":159.5,"p":148.82},{"n":162.3,"p":149.53},{"n":164.8,"p":149.89},{"n":167.1,"p":150.3},{"n":170,"p":150.66},{"n":172.2,"p":151.25},{"n":175.3,"p":152.08},{"n":177.85,"p":152.35}],
"dyGreen":[{"n":-1.9,"p":153.5},{"n":1.5,"p":153.5},{"n":3.6,"p":153.38},{"n":17.3,"p":152.91},{"n":22,"p":152.77},{"n":28,"p":152.29},{"n":35.2,"p":151.66},{"n":39.8,"p":151.27},{"n":45.4,"p":150.78},{"n":51.5,"p":150.07},{"n":56.1,"p":149.53},{"n":60.7,"p":148.76},{"n":65.8,"p":148.17},{"n":70.4,"p":147.64},{"n":74.5,"p":147.22},{"n":75.5,"p":147.1},{"n":80.6,"p":146.65},{"n":87.2,"p":146.1},{"n":92.3,"p":145.83},{"n":97.9,"p":145.72},{"n":106.1,"p":145.68},{"n":110.1,"p":145.72},{"n":115.2,"p":145.59},{"n":121.4,"p":145.45},{"n":126.5,"p":145.45},{"n":129.5,"p":145.51},{"n":134.1,"p":145.74},{"n":140.7,"p":146.1},{"n":146.9,"p":146.28},{"n":149.4,"p":146.45},{"n":151.8,"p":146.47},{"n":154.4,"p":146.48},{"n":156.2,"p":146.55},{"n":158.5,"p":146.81},{"n":161.5,"p":147.05},{"n":165.1,"p":147.25},{"n":169.2,"p":147.64},{"n":173.3,"p":147.99},{"n":177.85,"p":148.38}],
"dyOrange":[{"n":142.8,"p":145.78},{"n":143.6,"p":146.75},{"n":144.3,"p":148.08},{"n":145.6,"p":147.72},{"n":146.9,"p":147.58},{"n":147.9,"p":147.93},{"n":148.9,"p":149},{"n":149.6,"p":149.71},{"n":150.4,"p":148.88},{"n":152,"p":147.93},{"n":152.9,"p":147.22},{"n":153.6,"p":146.93},{"n":154.4,"p":146.93},{"n":155.2,"p":147.7},{"n":155.9,"p":149.35},{"n":157,"p":150.66},{"n":158,"p":152.2},{"n":158.7,"p":152.91},{"n":160,"p":152.26},{"n":161.3,"p":151.6},{"n":162.8,"p":150.54},{"n":164.1,"p":149.71},{"n":164.6,"p":149.62},{"n":165.4,"p":150.07},{"n":167.1,"p":151.19},{"n":169.4,"p":152.97},{"n":170.7,"p":152.55},{"n":172.2,"p":151.96},{"n":174,"p":151.84},{"n":174.8,"p":152.91},{"n":175.8,"p":154.15}],
"dyChan":[{"s":"u","n":34.96,"p":145.78},{"s":"u","n":217.3,"p":155.25},{"s":"l","n":34.96,"p":139.81},{"s":"l","n":224.9,"p":149.66}],
"dyWhite":[{"n":153.97,"p":146.54},{"n":181.9,"p":153.68}],
"clockNums":[{"n":10.51,"p":155.47,"t":"12"},{"n":13.01,"p":155.25,"t":"1"},{"n":15.05,"p":154.74,"t":"2"},{"n":15.76,"p":153.97,"t":"3"},{"n":14.95,"p":153.23,"t":"4"},{"n":13.06,"p":152.7,"t":"5"},{"n":10.41,"p":152.51,"t":"6"},{"n":7.81,"p":152.7,"t":"7"},{"n":5.81,"p":153.23,"t":"8"},{"n":5.1,"p":153.97,"t":"9"},{"n":6.03,"p":154.67,"t":"10"},{"n":7.81,"p":155.22,"t":"11"}],
"clockMin":[{"n":9.8,"p":154.03},{"n":16.43,"p":153.38}],
"clockHour":[{"n":10.46,"p":153.97},{"n":13.62,"p":153.23}],
"clockSec":[{"n":10.46,"p":153.97},{"n":15.46,"p":155.22}]
},
"layer":[
{"layer":[
{"data":{"values":[{"t":"USDJPY W1"}]},"mark":{"type":"text","font":"Liberation Sans","fontSize":112,"align":"left","baseline":"alphabetic","color":"#3f4543"},"encoding":{"x":{"datum":74.75,"type":"quantitative","scale":{"domain":[-0.9375,232.9375],"padding":0,"nice":false,"zero":false},"axis":{"orient":"bottom","offset":-486,"labelOverlap":false,"values":[0,8,16,24,32,40,48,56,64,72,80,88,96,104,112,120,128,136,144,152,160,168,176],"labelAlign":"left","labelPadding":1,"labelExpr":"['8 May 2022','3 Jul 2022','28 Aug 2022','23 Oct 2022','18 Dec 2022','12 Feb 2023','9 Apr 2023','4 Jun 2023','30 Jul 2023','24 Sep 2023','19 Nov 2023','14 Jan 2024','10 Mar 2024','5 May 2024','30 Jun 2024','25 Aug 2024','20 Oct 2024','15 Dec 2024','9 Feb 2025','6 Apr 2025','1 Jun 2025','27 Jul 2025','21 Sep 2025'][datum.value/8]"}},"y":{"datum":141.27,"type":"quantitative","scale":{"domain":[123.695,164.15],"range":[465,0],"nice":false,"zero":false},"axis":{"orient":"right","offset":-29,"labelOverlap":false,"values":[125.7,128.55,131.42,134.3,137.15,139.95,142.85,145.7,148.6,151.45,154.3,157.25,160.15,163.05],"format":".2f","labelPadding":2}},"text":{"field":"t"}}},
{"data":{"values":[{"n":34},{"n":87},{"n":139},{"n":191}]},"mark":{"type":"rule","color":"#e6e6e6","strokeDash":[3,3],"strokeWidth":1},"encoding":{"x":{"field":"n","type":"quantitative"},"y":{"datum":163.89,"type":"quantitative"},"y2":{"datum":125.52}}},
{"data":{"values":[{"p":163.89,"a":-0.25,"b":229.4},{"p":125.52,"a":-0.25,"b":229.4}]},"mark":{"type":"rule","color":"#bcbcbc","strokeWidth":1},"encoding":{"x":{"field":"a","type":"quantitative"},"x2":{"field":"b"},"y":{"field":"p","type":"quantitative"}}},
{"data":{"values":[{"n":-0.25},{"n":229.4},{"n":-0.8}]},"mark":{"type":"rule","color":"#bcbcbc","strokeWidth":1},"encoding":{"x":{"field":"n","type":"quantitative"},"y":{"datum":163.89,"type":"quantitative"},"y2":{"datum":125.52}}},
{"data":{"name":"wk"},"mark":{"type":"rule","color":"#008000","strokeWidth":1},"encoding":{"x":{"field":"n","type":"quantitative"},"y":{"field":"h","type":"quantitative"},"y2":{"field":"l"}}},
{"data":{"name":"wk"},"mark":{"type":"bar","orient":"vertical","size":4,"stroke":"#008000","strokeWidth":1},"encoding":{"x":{"field":"n","type":"quantitative"},"y":{"field":"o","type":"quantitative"},"y2":{"field":"c"},"fill":{"condition":{"test":"datum.o>datum.c","value":"#ffffff"},"value":"#00705e"}}},
{"data":{"name":"wkMa"},"mark":{"type":"line","color":"#ff0000","strokeWidth":1,"interpolate":"linear"},"encoding":{"x":{"field":"n","type":"quantitative"},"y":{"field":"p","type":"quantitative"}}},
{"data":{"name":"wkChan"},"mark":{"type":"line","color":"#1e90ff","strokeWidth":1},"encoding":{"x":{"field":"n","type":"quantitative"},"y":{"field":"p","type":"quantitative"},"detail":{"field":"s"}}},
{"data":{"values":[{"p":149.5,"a":-0.25,"b":229.4}]},"mark":{"type":"rule","color":"#1e90ff","strokeWidth":1},"encoding":{"x":{"field":"a","type":"quantitative"},"x2":{"field":"b"},"y":{"field":"p","type":"quantitative"}}},
{"data":{"name":"wkOrange"},"mark":{"type":"line","color":"#ffa500","strokeWidth":2.2},"encoding":{"x":{"field":"n","type":"quantitative"},"y":{"field":"p","type":"quantitative"},"detail":{"field":"s"}}},
{"data":{"values":[{"a":229.5,"b":233,"p":154.15,"q":153.21,"f":"#c0c0c0"},{"a":229.5,"b":233,"p":150,"q":149.12,"f":"#1e90ff"},{"a":191.25,"b":195.25,"p":126.57,"q":125.61,"f":"#c0c0c0"},{"a":195.4,"b":197.1,"p":126.57,"q":125.61,"f":"#c0c0c0"},{"a":198.25,"b":214.1,"p":126.65,"q":125.57,"f":"#ffffff"}]},"mark":{"type":"rect"},"encoding":{"x":{"field":"a","type":"quantitative"},"x2":{"field":"b"},"y":{"field":"p","type":"quantitative"},"y2":{"field":"q"},"fill":{"field":"f","type":"nominal","scale":null}}},
{"data":{"values":[{"n":229.9,"p":153.71,"t":"153.59"},{"n":229.9,"p":149.56,"t":"149.41"}]},"mark":{"type":"text","font":"Liberation Sans","fontSize":10,"align":"left","baseline":"middle","color":"#222222"},"encoding":{"x":{"field":"n","type":"quantitative"},"y":{"field":"p","type":"quantitative"},"text":{"field":"t"}}},
{"data":{"values":[{"n":193.25,"p":126.1,"t":"CR1"},{"n":196.25,"p":126.1,"t":"R"}]},"mark":{"type":"text","font":"Liberation Sans","fontSize":10,"align":"center","baseline":"middle","color":"#333333"},"encoding":{"x":{"field":"n","type":"quantitative"},"y":{"field":"p","type":"quantitative"},"text":{"field":"t"}}},
{"data":{"values":[{"n":198.75,"p":126.1,"t":"2025.11.09 00:00"}]},"mark":{"type":"text","font":"DejaVu Sans Mono","fontSize":11.5,"align":"left","baseline":"middle","color":"#000000"},"encoding":{"x":{"field":"n","type":"quantitative"},"y":{"field":"p","type":"quantitative"},"text":{"field":"t"}}},
{"data":{"values":[{"n":1.75,"p":163.22,"t":"USDJPY#,Weekly  153.954 154.478 153.311 153.595"}]},"mark":{"type":"text","font":"Liberation Sans","fontSize":10,"align":"left","baseline":"middle","color":"#c8c8c8"},"encoding":{"x":{"field":"n","type":"quantitative"},"y":{"field":"p","type":"quantitative"},"text":{"field":"t"}}},
{"data":{"values":[{"n":0.625,"p":163.22,"t":"▼"}]},"mark":{"type":"text","font":"DejaVu Sans","fontSize":7,"align":"center","baseline":"middle","color":"#c8c8c8"},"encoding":{"x":{"field":"n","type":"quantitative"},"y":{"field":"p","type":"quantitative"},"text":{"field":"t"}}},
{"data":{"values":[{"n":198.6,"p":161.28,"t":"週足　青"}]},"mark":{"type":"text","font":"Noto Sans CJK JP","fontSize":30,"align":"left","baseline":"middle","color":"#1e90ff"},"encoding":{"x":{"field":"n","type":"quantitative"},"y":{"field":"p","type":"quantitative"},"text":{"field":"t"}}},
{"data":{"values":[{"n":9.2,"p":145.18,"t":"✎"}]},"mark":{"type":"text","font":"DejaVu Sans","fontSize":22,"align":"center","baseline":"middle","color":"#ffa500"},"encoding":{"x":{"field":"n","type":"quantitative"},"y":{"field":"p","type":"quantitative"},"text":{"field":"t"}}}
]},
{"layer":[
{"data":{"values":[{"t":"USDJPY D1"}]},"mark":{"type":"text","font":"Liberation Sans","fontSize":112,"align":"left","baseline":"alphabetic","color":"#3f4543"},"encoding":{"x":{"datum":71.46,"type":"quantitative","scale":{"domain":[-2.0625,231.8125],"padding":0,"nice":false,"zero":false},"axis":{"orient":"bottom","offset":-13,"labelOverlap":false,"values":[0,8,16,24,32,40,48,56,64,72,80,88,96,104,112,120,128,136,144,152,160,168,176],"labelAlign":"left","labelPadding":1,"labelExpr":"['5 Mar 2025','14 Mar 2025','24 Mar 2025','3 Apr 2025','15 Apr 2025','25 Apr 2025','7 May 2025','19 May 2025','29 May 2025','10 Jun 2025','20 Jun 2025','2 Jul 2025','14 Jul 2025','24 Jul 2025','5 Aug 2025','15 Aug 2025','27 Aug 2025','8 Sep 2025','18 Sep 2025','30 Sep 2025','10 Oct 2025','22 Oct 2025','31 Oct 2025'][datum.value/8]"}},"y":{"datum":145.98,"type":"quantitative","scale":{"domain":[139.051,155.572],"range":[930,465],"nice":false,"zero":false},"axis":{"orient":"right","offset":-31,"labelOverlap":false,"values":[139.61,140.77,141.96,143.11,144.27,145.46,146.61,147.8,148.96,150.15,151.3,152.49,154.84],"format":".2f","labelPadding":2}},"text":{"field":"t"}}},
{"data":{"values":[{"a":-2.0625,"b":231.8125,"p":155.572,"q":155.395,"f":"#e4e4e4"},{"a":-2.0625,"b":231.8125,"p":155.395,"q":155.36,"f":"#808080"},{"a":-2.0625,"b":227.9,"p":155.277,"q":155.157,"f":"#32cd32"}]},"mark":{"type":"rect"},"encoding":{"x":{"field":"a","type":"quantitative"},"x2":{"field":"b"},"y":{"field":"p","type":"quantitative"},"y2":{"field":"q"},"fill":{"field":"f","type":"nominal","scale":null}}},
{"data":{"values":[{"n":22},{"n":44},{"n":66},{"n":87},{"n":110},{"n":131},{"n":153},{"n":177},{"n":205}]},"mark":{"type":"rule","color":"#e6e6e6","strokeDash":[3,3],"strokeWidth":1},"encoding":{"x":{"field":"n","type":"quantitative"},"y":{"datum":155.15,"type":"quantitative"},"y2":{"datum":139.51}}},
{"data":{"values":[{"p":139.51,"a":-2.0625,"b":227.9}]},"mark":{"type":"rule","color":"#bcbcbc","strokeWidth":1},"encoding":{"x":{"field":"a","type":"quantitative"},"x2":{"field":"b"},"y":{"field":"p","type":"quantitative"}}},
{"data":{"values":[{"n":227.9}]},"mark":{"type":"rule","color":"#bcbcbc","strokeWidth":1},"encoding":{"x":{"field":"n","type":"quantitative"},"y":{"datum":155.29,"type":"quantitative"},"y2":{"datum":139.51}}},
{"data":{"name":"dy"},"mark":{"type":"rule","color":"#008000","strokeWidth":1},"encoding":{"x":{"field":"n","type":"quantitative"},"y":{"field":"h","type":"quantitative"},"y2":{"field":"l"}}},
{"data":{"name":"dy"},"mark":{"type":"bar","orient":"vertical","size":4,"stroke":"#008000","strokeWidth":1},"encoding":{"x":{"field":"n","type":"quantitative"},"y":{"field":"o","type":"quantitative"},"y2":{"field":"c"},"fill":{"condition":{"test":"datum.o>datum.c","value":"#ffffff"},"value":"#00705e"}}},
{"data":{"name":"dyGreen"},"mark":{"type":"line","color":"#228b22","strokeWidth":1},"encoding":{"x":{"field":"n","type":"quantitative"},"y":{"field":"p","type":"quantitative"}}},
{"data":{"name":"dyRed"},"mark":{"type":"line","color":"#ff0000","strokeWidth":1},"encoding":{"x":{"field":"n","type":"quantitative"},"y":{"field":"p","type":"quantitative"}}},
{"data":{"name":"dyChan"},"mark":{"type":"line","color":"#1e90ff","strokeWidth":1},"encoding":{"x":{"field":"n","type":"quantitative"},"y":{"field":"p","type":"quantitative"},"detail":{"field":"s"}}},
{"data":{"name":"dyWhite"},"mark":{"type":"line","color":"#ffffff","strokeWidth":1},"encoding":{"x":{"field":"n","type":"quantitative"},"y":{"field":"p","type":"quantitative"}}},
{"data":{"values":[{"p":149.41,"f":"#1e90ff"},{"p":153.11,"f":"#ffffff"}]},"mark":{"type":"rule","strokeWidth":1},"encoding":{"x":{"datum":-2.0625,"type":"quantitative"},"x2":{"datum":227.9},"y":{"field":"p","type":"quantitative"},"color":{"field":"f","type":"nominal","scale":null}}},
{"data":{"name":"dyOrange"},"mark":{"type":"line","color":"#ffa500","strokeWidth":2.2},"encoding":{"x":{"field":"n","type":"quantitative"},"y":{"field":"p","type":"quantitative"}}},
{"data":{"values":[{"a":227.97,"b":231.84,"p":153.77,"q":153.42,"f":"#c0c0c0"},{"a":227.97,"b":231.84,"p":153.32,"q":152.95,"f":"#ffffff"},{"a":227.97,"b":231.84,"p":149.64,"q":149.26,"f":"#1e90ff"},{"a":189.84,"b":193.71,"p":139.97,"q":139.53,"f":"#c0c0c0"},{"a":194.03,"b":195.7,"p":139.97,"q":139.53,"f":"#c0c0c0"},{"a":196.84,"b":212.7,"p":140.02,"q":139.53,"f":"#ffffff"}]},"mark":{"type":"rect"},"encoding":{"x":{"field":"a","type":"quantitative"},"x2":{"field":"b"},"y":{"field":"p","type":"quantitative"},"y2":{"field":"q"},"fill":{"field":"f","type":"nominal","scale":null}}},
{"data":{"values":[{"n":228.6,"p":153.59,"t":"153.59"},{"n":228.6,"p":153.14,"t":"153.09"},{"n":228.6,"p":149.45,"t":"149.41"}]},"mark":{"type":"text","font":"Liberation Sans","fontSize":10,"align":"left","baseline":"middle","color":"#222222"},"encoding":{"x":{"field":"n","type":"quantitative"},"y":{"field":"p","type":"quantitative"},"text":{"field":"t"}}},
{"data":{"values":[{"n":191.8,"p":139.75,"t":"CR1"},{"n":194.87,"p":139.75,"t":"R"}]},"mark":{"type":"text","font":"Liberation Sans","fontSize":10,"align":"center","baseline":"middle","color":"#333333"},"encoding":{"x":{"field":"n","type":"quantitative"},"y":{"field":"p","type":"quantitative"},"text":{"field":"t"}}},
{"data":{"values":[{"n":197.3,"p":139.75,"t":"2025.11.05 00:00"}]},"mark":{"type":"text","font":"DejaVu Sans Mono","fontSize":11.5,"align":"left","baseline":"middle","color":"#000000"},"encoding":{"x":{"field":"n","type":"quantitative"},"y":{"field":"p","type":"quantitative"},"text":{"field":"t"}}},
{"data":{"values":[{"n":-1.79,"p":154.97,"t":"#,Daily  153.954 154.478 153.311 153.595"}]},"mark":{"type":"text","font":"Liberation Sans","fontSize":10,"align":"left","baseline":"middle","color":"#c8c8c8"},"encoding":{"x":{"field":"n","type":"quantitative"},"y":{"field":"p","type":"quantitative"},"text":{"field":"t"}}},
{"data":{"values":[{"n":210.2,"p":153.76,"t":"日足"},{"n":222.2,"p":153.76,"t":"白"}]},"mark":{"type":"text","font":"Noto Sans CJK JP","fontSize":30,"align":"left","baseline":"middle","color":"#ffffff"},"encoding":{"x":{"field":"n","type":"quantitative"},"y":{"field":"p","type":"quantitative"},"text":{"field":"t"}}},
{"data":{"values":[{"n":10.46,"p":154.01}]},"mark":{"type":"point","filled":true,"fill":"#ffffff","stroke":"#5b8fd0","strokeWidth":3,"opacity":1,"size":13700},"encoding":{"x":{"field":"n","type":"quantitative"},"y":{"field":"p","type":"quantitative"}}},
{"data":{"values":[{"n":10.46,"p":154.01}]},"mark":{"type":"point","filled":false,"stroke":"#000000","strokeWidth":2,"strokeDash":[1.5,3.94],"opacity":1,"size":10816},"encoding":{"x":{"field":"n","type":"quantitative"},"y":{"field":"p","type":"quantitative"}}},
{"data":{"name":"clockNums"},"mark":{"type":"text","font":"Liberation Sans","fontWeight":"bold","fontSize":14,"align":"center","baseline":"middle","color":"#1a6fd0"},"encoding":{"x":{"field":"n","type":"quantitative"},"y":{"field":"p","type":"quantitative"},"text":{"field":"t"}}},
{"data":{"values":[{"n":10.56,"p":152.88,"t":"AM"}]},"mark":{"type":"text","font":"Liberation Serif","fontSize":9,"align":"center","baseline":"middle","color":"#808080"},"encoding":{"x":{"field":"n","type":"quantitative"},"y":{"field":"p","type":"quantitative"},"text":{"field":"t"}}},
{"data":{"name":"clockHour"},"mark":{"type":"line","color":"#444444","strokeWidth":2.5},"encoding":{"x":{"field":"n","type":"quantitative"},"y":{"field":"p","type":"quantitative"}}},
{"data":{"name":"clockMin"},"mark":{"type":"line","color":"#000000","strokeWidth":2.5},"encoding":{"x":{"field":"n","type":"quantitative"},"y":{"field":"p","type":"quantitative"}}},
{"data":{"name":"clockSec"},"mark":{"type":"line","color":"#ff0000","strokeWidth":1},"encoding":{"x":{"field":"n","type":"quantitative"},"y":{"field":"p","type":"quantitative"}}}
]}
]}
